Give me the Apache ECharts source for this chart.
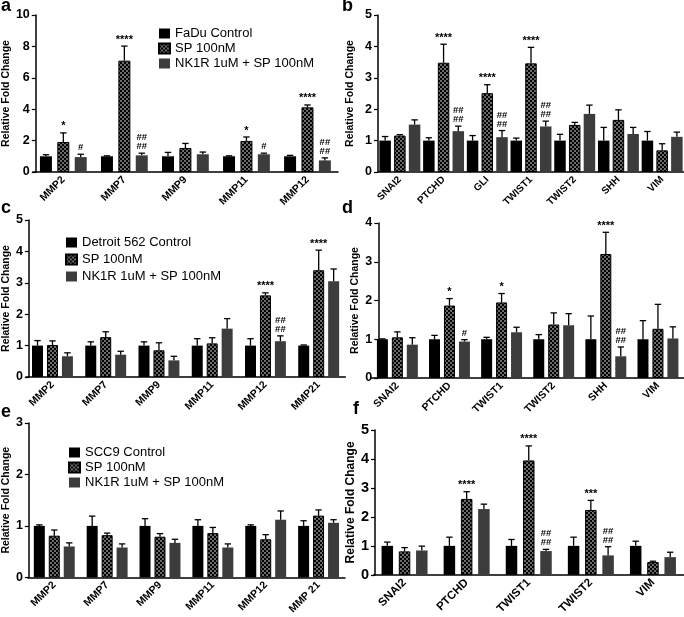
<!DOCTYPE html>
<html>
<head>
<meta charset="utf-8">
<script src="https://cdn.jsdelivr.net/npm/echarts@6/dist/echarts.min.js"></script>
<style>html,body{margin:0;padding:0;background:#fff}#c{width:684px;height:617px}</style>
</head>
<body>
<div id="c"></div>
<script>
// ---------- DATA ----------
const catsA = ['MMP2','MMP7','MMP9','MMP11','MMP12'];
const ctrlA = [1.0,1.0,1.0,1.0,1.0];
const ctrlHiA = [1.1,1.03,1.25,1.03,1.06];
const spA = [1.91,7.09,1.53,1.98,4.12];
const spHiA = [2.49,8.02,1.82,2.23,4.27];
const nkA = [0.95,1.06,1.13,1.13,0.74];
const nkHiA = [1.13,1.2,1.27,1.2,0.9];
const spSigA = ['*','****','','*','****'];
const nkSigA = ['#','##\n##','','#','##\n##'];

const catsB = ['SNAI2','PTCHD','GLI','TWIST1','TWIST2','SHH','VIM'];
const ctrlB = [1,1,1,1,1,1,1];
const ctrlHiB = [1.13,1.09,1.16,1.08,1.2,1.42,1.29];
const spB = [1.16,3.48,2.51,3.46,1.5,1.66,0.69];
const spHiB = [1.19,4.07,2.78,3.97,1.58,1.98,0.9];
const nkB = [1.51,1.3,1.11,1.45,1.85,1.21,1.12];
const nkHiB = [1.66,1.46,1.32,1.62,2.13,1.42,1.27];
const spSigB = ['','****','****','****','','',''];
const nkSigB = ['','##\n##','##\n##','##\n##','','',''];

const catsC = ['MMP2','MMP7','MMP9','MMP11','MMP12','MMP21'];
const ctrlC = [1,1,1,1,1,1];
const ctrlHiC = [1.16,1.12,1.12,1.22,1.22,1.02];
const spC = [1.02,1.27,0.85,1.07,2.6,3.4];
const spHiC = [1.15,1.44,1.09,1.25,2.68,4.04];
const nkC = [0.66,0.71,0.53,1.54,1.14,3.05];
const nkHiC = [0.77,0.82,0.66,1.86,1.31,3.44];
const spSigC = ['','','','','****','****'];
const nkSigC = ['','','','','##\n##',''];

const catsD = ['SNAI2','PTCHD','TWIST1','TWIST2','SHH','VIM'];
const ctrlD = [1,1,1,1,1,1];
const ctrlHiD = [1.01,1.1,1.05,1.12,1.6,1.48];
const spD = [1.05,1.87,1.95,1.38,3.2,1.27];
const spHiD = [1.19,2.05,2.18,1.68,3.76,1.9];
const nkD = [0.86,0.94,1.18,1.36,0.56,1.02];
const nkHiD = [1.04,0.99,1.31,1.66,0.8,1.32];
const spSigD = ['','*','*','','****',''];
const nkSigD = ['','#','','','##\n##',''];

const catsE = ['MMP2','MMP7','MMP9','MMP11','MMP12','MMP 21'];
const ctrlE = [1,1,1,1,1,1];
const ctrlHiE = [1.02,1.19,1.14,1.12,1.02,1.1];
const spE = [0.81,0.82,0.79,0.86,0.74,1.2];
const spHiE = [0.92,0.86,0.85,0.97,0.83,1.31];
const nkE = [0.6,0.58,0.67,0.58,1.12,1.06];
const nkHiE = [0.67,0.65,0.74,0.65,1.29,1.12];

const catsF = ['SNAI2','PTCHD','TWIST1','TWIST2','VIM'];
const ctrlF = [1,1,1,1,1];
const ctrlHiF = [1.13,1.3,1.22,1.3,1.16];
const spF = [0.81,2.62,3.95,2.24,0.44];
const spHiF = [0.94,2.87,4.45,2.57,0.47];
const nkF = [0.84,2.27,0.82,0.67,0.61];
const nkHiF = [0.99,2.44,0.88,0.97,0.78];
const spSigF = ['','****','****','***',''];
const nkSigF = ['','','##\n##','##\n##',''];

const namesFaDu = ['FaDu Control','SP 100nM','NK1R 1uM + SP 100nM'];
const namesDet = ['Detroit 562 Control','SP 100nM','NK1R 1uM + SP 100nM'];
const namesScc = ['SCC9 Control','SP 100nM','NK1R 1uM + SP 100nM'];
const yTitle = 'Relative Fold Change';

// ---------- STYLE ----------
const FONT = '"Liberation Sans", Arial, sans-serif';
function makePattern(){
  const c = document.createElement('canvas');
  c.width = 4; c.height = 4;
  const g = c.getContext('2d');
  g.fillStyle = '#000'; g.fillRect(0,0,4,4);
  g.fillStyle = '#f4f4f4';
  g.beginPath(); g.arc(1,1,0.8,0,Math.PI*2); g.fill();
  g.beginPath(); g.arc(3,3,0.8,0,Math.PI*2); g.fill();
  return c;
}
const pat = {image: makePattern(), repeat: 'repeat'};
const CTRL = '#000000', GRAY = '#3c3c3c';

const panels = [
  {letter:'a', lx:1, ly:-3, cats:catsA, grp:[[ctrlA,ctrlHiA,null],[spA,spHiA,spSigA],[nkA,nkHiA,nkSigA]], names:namesFaDu,
   grid:{left:26.5, top:15, width:311.5, height:157}, yoff:-3, max:10, interval:2, bw:12, gap:45, nameGap:19, tick:12.5, cat:10.5, ttl:10.5,
   legend:{left:158, top:27, gap:2}},
  {letter:'b', lx:342, ly:-3, cats:catsB, grp:[[ctrlB,ctrlHiB,null],[spB,spHiB,spSigB],[nkB,nkHiB,nkSigB]], names:namesFaDu,
   grid:{left:378, top:15, width:310, height:157}, yoff:0, max:5, interval:1, bw:11.5, gap:28, nameGap:22, tick:12.5, cat:10, ttl:10.5},
  {letter:'c', lx:1, ly:199, cats:catsC, grp:[[ctrlC,ctrlHiC,null],[spC,spHiC,spSigC],[nkC,nkHiC,nkSigC]], names:namesDet,
   grid:{left:25.3, top:220, width:320, height:157}, yoff:-3, max:5, interval:1, bw:11, gap:36, nameGap:15, tick:12.5, cat:10.5, ttl:10.5,
   legend:{left:65, top:236, gap:4}},
  {letter:'d', lx:342, ly:199, cats:catsD, grp:[[ctrlD,ctrlHiD,null],[spD,spHiD,spSigD],[nkD,nkHiD,nkSigD]], names:namesDet,
   grid:{left:371.3, top:223, width:314.4, height:155}, yoff:-7, max:4, interval:1, bw:11, gap:36, nameGap:18, tick:12.5, cat:10.5, ttl:10.5},
  {letter:'e', lx:1, ly:403, cats:catsE, grp:[[ctrlE,ctrlHiE,null],[spE,spHiE,null],[nkE,nkHiE,null]], names:namesScc,
   grid:{left:27, top:423, width:318, height:157}, yoff:-1, max:3, interval:1, bw:11, gap:36, nameGap:9, tick:12.5, cat:10.5, ttl:10.5,
   legend:{left:68, top:446, gap:2}},
  {letter:'f', lx:353, ly:400, cats:catsF, grp:[[ctrlF,ctrlHiF,null],[spF,spHiF,spSigF],[nkF,nkHiF,nkSigF]], names:namesScc,
   grid:{left:373.5, top:430, width:311.5, height:151}, yoff:-1.5, max:5, interval:1, bw:11.5, gap:50, nameGap:11, tick:14.5, cat:11.5, ttl:12}
];

const option = {animation:false, backgroundColor:'#fff', title:[], grid:[], xAxis:[], yAxis:[], legend:[], series:[]};
const colors = [CTRL, pat, GRAY];

panels.forEach((p, gi) => {
  option.title.push({text:p.letter, left:p.lx, top:p.ly, padding:0,
    textStyle:{fontSize:18, fontWeight:'bold', fontFamily:FONT, color:'#000'}});
  option.grid.push(Object.assign({containLabel:false}, p.grid));
  option.xAxis.push({type:'category', gridIndex:gi, data:p.cats,
    axisLine:{lineStyle:{color:'#000', width:1.5}},
    axisTick:{alignWithLabel:true, length:4, lineStyle:{color:'#000', width:1.2}},
    axisLabel:{interval:0, rotate:45, margin:6, color:'#000', fontSize:p.cat, fontWeight:'bold', fontFamily:FONT},
    splitLine:{show:false}});
  option.yAxis.push({type:'value', gridIndex:gi, min:0, max:p.max, interval:p.interval, offset:p.yoff,
    name:yTitle, nameLocation:'middle', nameGap:p.nameGap,
    nameTextStyle:{fontSize:p.ttl, fontWeight:'bold', fontFamily:FONT, color:'#000'},
    axisLine:{show:true, lineStyle:{color:'#000', width:1.5}},
    axisTick:{show:true, length:4, lineStyle:{color:'#000', width:1.2}},
    axisLabel:{margin:6, color:'#000', fontSize:p.tick, fontWeight:'bold', fontFamily:FONT},
    splitLine:{show:false}});
  if (p.legend) {
    option.legend.push({orient:'vertical', left:p.legend.left, top:p.legend.top, itemGap:p.legend.gap,
      itemWidth:11, itemHeight:10, icon:'rect', padding:0, selectedMode:false,
      data:p.names, textStyle:{fontSize:13, fontFamily:FONT, color:'#000', padding:[0,0,0,0]}});
  }
  p.grp.forEach((g, k) => {
    option.series.push({type:'bar', name:p.names[k], xAxisIndex:gi, yAxisIndex:gi,
      data:g[0], barWidth:p.bw, barGap:p.gap+'%',
      itemStyle:{color:colors[k], borderColor:'#000', borderWidth:k===1?1:0},
      emphasis:{disabled:true}, z:2});
  });
  p.grp.forEach((g, k) => {
    const sigs = g[2];
    const off = (k-1)*p.bw*(1+p.gap/100);
    option.series.push({type:'custom', xAxisIndex:gi, yAxisIndex:gi, z:3, silent:true,
      data:g[0].map((m,i)=>[i, m, g[1][i]]),
      renderItem:function(params, api){
        const i = api.value(0);
        const base = api.coord([i, api.value(1)]);
        const top = api.coord([i, api.value(2)]);
        const x = base[0] + off;
        const ch = [
          {type:'line', shape:{x1:x, y1:base[1], x2:x, y2:top[1]}, style:{stroke:'#000', lineWidth:1.3}},
          {type:'line', shape:{x1:x-3.2, y1:top[1], x2:x+3.2, y2:top[1]}, style:{stroke:'#000', lineWidth:1.3}}
        ];
        const s = sigs ? sigs[params.dataIndex] : '';
        const hash = s.indexOf('#') >= 0;
        if (s) ch.push({type:'text', x:x, y:top[1]-(hash?2:1),
          style:{text:s, align:'center', verticalAlign:'bottom', fontSize:hash?9.5:11,
                 fontWeight:'bold', fontFamily:FONT, fill:'#000', lineHeight:hash?9:11}});
        return {type:'group', children:ch};
      }});
  });
});

const chart = echarts.init(document.getElementById('c'), null, {renderer:'canvas'});
chart.setOption(option);
</script>
</body>
</html>
